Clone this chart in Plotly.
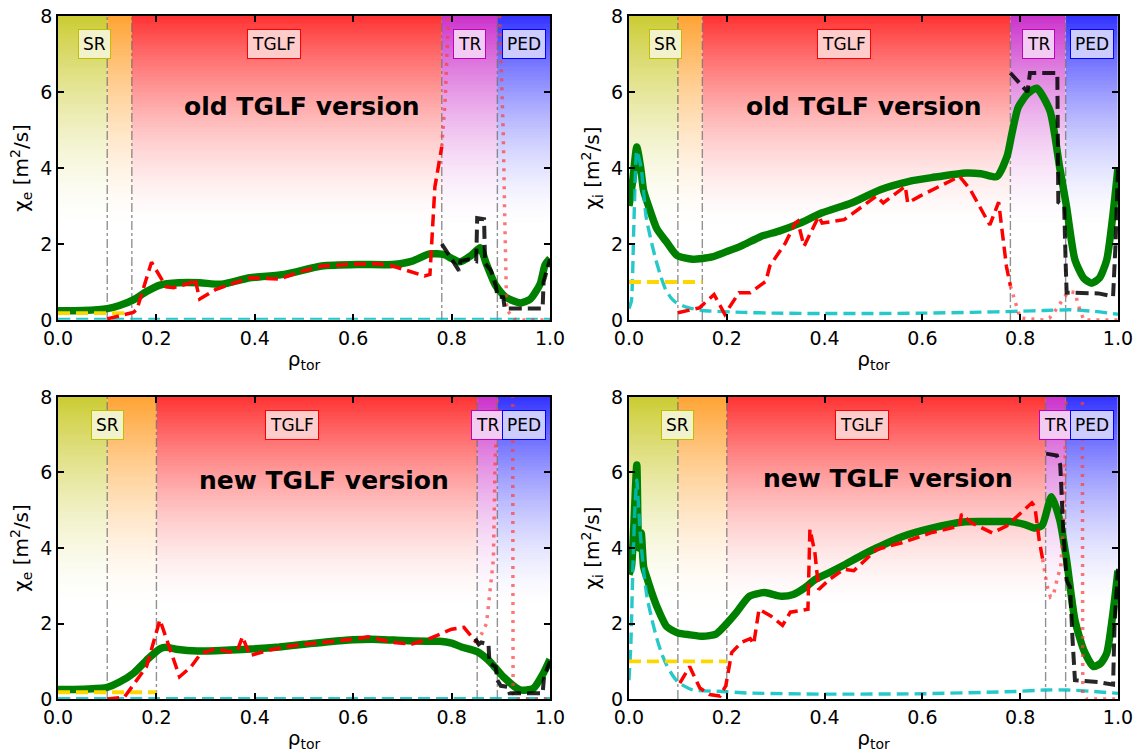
import plotly.graph_objects as go

# ---------------- region layout (rho_tor boundaries) ----------------
bounds_old = [0.0, 0.10, 0.15, 0.78, 0.893, 1.0]
bounds_new = [0.0, 0.10, 0.20, 0.852, 0.893, 1.0]
region_rgb = [(191, 191, 0), (255, 140, 0), (255, 0, 0), (191, 0, 191), (0, 0, 255)]

# ---------------- top-left: chi_e, old TGLF ----------------
tl_green_x = [0.0, 0.05, 0.1, 0.125, 0.153, 0.18, 0.207, 0.245, 0.288, 0.332, 0.39, 0.46, 0.536,
              0.61, 0.68, 0.72, 0.755, 0.785, 0.8, 0.817, 0.84, 0.858, 0.87, 0.889, 0.91, 0.94,
              0.96, 0.98, 0.99, 1.0]
tl_green_y = [0.24, 0.25, 0.3, 0.38, 0.53, 0.75, 0.92, 0.98, 0.98, 0.94, 1.11, 1.2, 1.42,
              1.46, 1.46, 1.55, 1.74, 1.72, 1.62, 1.53, 1.7, 1.9, 1.5, 0.92, 0.6, 0.45,
              0.55, 0.95, 1.45, 1.62]
tl_red_x = [0.1, 0.153, 0.16, 0.19, 0.22, 0.235, 0.275, 0.278, 0.288, 0.32, 0.35, 0.39, 0.45,
            0.5, 0.536, 0.6, 0.65, 0.68, 0.745, 0.756, 0.766, 0.78]
tl_red_y = [0.03, 0.2, 0.27, 1.52, 0.87, 0.85, 1.0, 1.1, 0.55, 0.8, 0.94, 1.11, 1.08,
            1.3, 1.42, 1.47, 1.48, 1.42, 1.16, 1.2, 3.5, 4.56]
tl_dot_x = [0.78, 0.787, 0.793, 0.8, 0.85, 0.89, 0.898, 0.905, 0.908, 0.912, 0.93, 1.0]
tl_dot_y = [4.56, 5.8, 7.8, 12.0, 20.0, 12.0, 7.9, 4.9, 2.7, 0.26, 0.0, 0.0]
tl_blk_x = [0.78, 0.80, 0.815, 0.818, 0.835, 0.85, 0.852, 0.866, 0.868, 0.88, 0.89, 0.893,
            0.905, 0.908, 0.985, 0.987, 1.0]
tl_blk_y = [2.0, 1.6, 1.3, 1.55, 1.6, 1.55, 2.68, 2.65, 1.5, 1.3, 0.9, 0.62,
            0.6, 0.3, 0.3, 1.0, 1.6]
tl_cyan_x = [0.0, 0.2, 0.4, 0.6, 0.8, 1.0]
tl_cyan_y = [0.03, 0.03, 0.03, 0.03, 0.03, 0.03]
tl_gold_x = [0.0, 0.05, 0.1, 0.15]
tl_gold_y = [0.18, 0.18, 0.18, 0.18]

# ---------------- top-right: chi_i, old TGLF ----------------
tr_green_x = [0.0, 0.008, 0.016, 0.024, 0.03, 0.04, 0.057, 0.077, 0.098, 0.13, 0.17, 0.2,
              0.23, 0.27, 0.307, 0.35, 0.395, 0.455, 0.514, 0.573, 0.62, 0.69, 0.72, 0.752,
              0.773, 0.783, 0.796, 0.815, 0.834, 0.861, 0.881, 0.895, 0.912, 0.93, 0.946,
              0.962, 0.977, 0.99, 1.0]
tr_green_y = [3.0, 3.7, 4.55, 4.0, 3.4, 3.0, 2.4, 2.05, 1.7, 1.6, 1.66, 1.8,
              1.95, 2.2, 2.34, 2.55, 2.82, 3.08, 3.43, 3.65, 3.75, 3.87, 3.85, 3.77,
              4.3, 4.9, 5.6, 5.95, 6.1, 5.5, 4.0, 2.97, 1.58, 1.1, 0.97,
              1.1, 1.58, 2.8, 4.0]
tr_red_x = [0.1, 0.144, 0.174, 0.196, 0.225, 0.248, 0.28, 0.288, 0.32, 0.34, 0.345, 0.358,
            0.388, 0.395, 0.44, 0.46, 0.506, 0.52, 0.565, 0.57, 0.595, 0.676, 0.698, 0.738,
            0.756, 0.772, 0.78]
tr_red_y = [0.19, 0.32, 0.67, 0.15, 0.72, 0.72, 1.02, 1.42, 2.03, 2.55, 2.6, 1.94,
            2.73, 2.55, 2.64, 2.82, 3.26, 3.08, 3.52, 3.08, 3.26, 3.78, 3.43, 2.5,
            3.1, 1.4, 0.9]
tr_dot_x = [0.78, 0.79, 0.8, 0.85, 0.86, 0.875, 0.89, 0.9, 0.912, 0.92, 0.93, 1.0]
tr_dot_y = [0.9, 0.45, 0.05, 0.0, 0.05, 0.3, 0.6, 0.75, 0.72, 0.35, 0.0, 0.0]
tr_blk_x = [0.78, 0.815, 0.82, 0.83, 0.876, 0.878, 0.89, 0.893, 0.895, 0.96, 0.99, 0.995, 1.0]
tr_blk_y = [6.5, 6.0, 6.5, 6.5, 6.5, 3.1, 3.0, 1.5, 0.72, 0.7, 0.62, 2.0, 4.0]
tr_cyan_x = [0.0, 0.005, 0.01, 0.016, 0.025, 0.035, 0.045, 0.055, 0.065, 0.075, 0.085, 0.095,
             0.117, 0.151, 0.233, 0.3, 0.4, 0.5, 0.6, 0.7, 0.8, 0.85, 0.9, 0.95, 1.0]
tr_cyan_y = [0.3, 0.5, 2.5, 4.45, 4.0, 2.72, 2.1, 1.58, 1.15, 0.8, 0.6, 0.47,
             0.34, 0.25, 0.2, 0.18, 0.17, 0.17, 0.18, 0.2, 0.23, 0.25, 0.27, 0.23, 0.15]
tr_gold_x = [0.0, 0.05, 0.1, 0.15]
tr_gold_y = [1.0, 1.0, 1.0, 1.0]

# ---------------- bottom-left: chi_e, new TGLF ----------------
bl_green_x = [0.0, 0.05, 0.1, 0.125, 0.153, 0.18, 0.207, 0.22, 0.24, 0.283, 0.35, 0.4, 0.45,
              0.5, 0.55, 0.6, 0.65, 0.7, 0.75, 0.776, 0.8, 0.82, 0.851, 0.878, 0.905, 0.939,
              0.966, 0.986, 1.0]
bl_green_y = [0.25, 0.26, 0.31, 0.45, 0.68, 1.03, 1.33, 1.37, 1.32, 1.27, 1.3, 1.33, 1.38,
              1.45, 1.52, 1.57, 1.58, 1.55, 1.53, 1.53, 1.48, 1.38, 1.26, 0.99, 0.59, 0.24,
              0.28, 0.67, 1.05]
bl_red_x = [0.1, 0.135, 0.16, 0.18, 0.207, 0.225, 0.247, 0.27, 0.29, 0.32, 0.35, 0.365,
            0.375, 0.39, 0.43, 0.48, 0.54, 0.61, 0.63, 0.68, 0.72, 0.755, 0.8, 0.825, 0.85]
bl_red_y = [0.0, 0.05, 0.5, 0.86, 2.1, 1.4, 0.59, 0.85, 1.2, 1.33, 1.25, 1.3,
            1.65, 1.15, 1.3, 1.42, 1.5, 1.6, 1.65, 1.5, 1.46, 1.6, 1.85, 1.9, 1.5]
bl_dot_x = [0.85, 0.86, 0.871, 0.885, 0.888, 0.89, 0.895, 0.91, 0.924, 0.925, 0.93, 1.0]
bl_dot_y = [1.5, 1.7, 2.0, 3.7, 6.0, 7.1, 9.0, 12.0, 9.0, 0.15, 0.0, 0.0]
bl_blk_x = [0.848, 0.855, 0.86, 0.875, 0.877, 0.883, 0.89, 0.893, 0.9, 0.915, 0.918, 0.985,
            0.988, 1.0]
bl_blk_y = [1.6, 1.45, 1.5, 1.45, 0.95, 0.9, 0.85, 0.5, 0.35, 0.32, 0.15, 0.15, 0.6, 1.0]
bl_cyan_x = [0.0, 0.2, 0.4, 0.6, 0.8, 1.0]
bl_cyan_y = [0.03, 0.03, 0.03, 0.03, 0.03, 0.03]
bl_gold_x = [0.0, 0.05, 0.1, 0.15, 0.2]
bl_gold_y = [0.18, 0.18, 0.18, 0.18, 0.18]

# ---------------- bottom-right: chi_i, new TGLF ----------------
br_green_x = [0.0, 0.005, 0.01, 0.016, 0.02, 0.025, 0.03, 0.037, 0.047, 0.057, 0.077, 0.1,
              0.125, 0.151, 0.178, 0.198, 0.219, 0.246, 0.277, 0.3, 0.314, 0.336, 0.36, 0.38,
              0.41, 0.44, 0.475, 0.506, 0.558, 0.617, 0.684, 0.728, 0.779, 0.81, 0.83, 0.845,
              0.864, 0.881, 0.895, 0.912, 0.93, 0.95, 0.965, 0.977, 0.99, 1.0]
br_green_y = [3.3, 3.5, 4.6, 6.2, 4.0, 4.4, 3.5, 3.2, 2.8, 2.45, 1.92, 1.75,
              1.7, 1.66, 1.72, 1.97, 2.28, 2.72, 2.82, 2.75, 2.72, 2.77, 2.95, 3.16,
              3.35, 3.55, 3.8, 4.0, 4.3, 4.52, 4.69, 4.7, 4.7, 4.62, 4.53, 4.6,
              5.36, 4.74, 3.68, 2.09, 1.3, 0.86, 0.95, 1.21, 2.3, 3.4]
br_red_x = [0.104, 0.124, 0.145, 0.165, 0.186, 0.198, 0.21, 0.23, 0.248, 0.255, 0.266, 0.29,
            0.314, 0.33, 0.366, 0.37, 0.38, 0.388, 0.41, 0.44, 0.46, 0.506, 0.558, 0.617,
            0.676, 0.68, 0.7, 0.743, 0.772, 0.787, 0.824, 0.83, 0.839, 0.846]
br_red_y = [0.42, 0.86, 0.29, 0.12, 0.08, 0.35, 1.23, 1.5, 1.6, 1.45, 2.38, 2.2,
            1.95, 2.3, 2.38, 4.5, 3.9, 2.9, 3.17, 3.44, 3.4, 3.96, 4.14, 4.4,
            4.58, 4.9, 4.67, 4.4, 4.58, 4.75, 5.2, 5.1, 4.2, 3.7]
br_dot_x = [0.846, 0.855, 0.862, 0.868, 0.876, 0.883, 0.89, 0.895, 0.91, 0.927, 0.928, 0.935, 1.0]
br_dot_y = [3.7, 3.0, 2.7, 2.75, 3.2, 3.5, 5.0, 9.0, 12.0, 9.0, 0.15, 0.0, 0.0]
br_blk_x = [0.853, 0.875, 0.882, 0.888, 0.895, 0.902, 0.907, 0.912, 0.96, 0.99, 0.993, 1.0]
br_blk_y = [6.5, 6.45, 6.2, 4.5, 3.15, 2.97, 1.6, 0.5, 0.45, 0.38, 2.0, 3.45]
br_cyan_x = [0.0, 0.004, 0.008, 0.012, 0.016, 0.02, 0.023, 0.03, 0.037, 0.047, 0.057, 0.067,
             0.077, 0.088, 0.1, 0.13, 0.19, 0.24, 0.4, 0.6, 0.79, 0.85, 0.897, 0.95, 1.0]
br_cyan_y = [0.5, 1.5, 3.5, 5.0, 5.8, 5.0, 4.4, 3.4, 2.7, 2.1, 1.6, 1.2,
             0.9, 0.65, 0.45, 0.24, 0.2, 0.16, 0.13, 0.14, 0.2, 0.24, 0.24, 0.2, 0.15]
br_gold_x = [0.0, 0.05, 0.1, 0.15, 0.2]
br_gold_y = [1.0, 1.0, 1.0, 1.0, 1.0]

panels = [
    dict(ax="", bounds=bounds_old, title="old TGLF version", tpos=(0.495, 5.62), ylab="χ<sub>e</sub> [m<sup>2</sup>/s]",
         green=(tl_green_x, tl_green_y), red=(tl_red_x, tl_red_y), dot=(tl_dot_x, tl_dot_y),
         blk=(tl_blk_x, tl_blk_y), cyan=(tl_cyan_x, tl_cyan_y), gold=(tl_gold_x, tl_gold_y),
         cyw=2, dom=([0.0510, 0.4833], [0.5756, 0.9788])),
    dict(ax="2", bounds=bounds_old, title="old TGLF version", tpos=(0.48, 5.62), ylab="χ<sub>i</sub> [m<sup>2</sup>/s]",
         green=(tr_green_x, tr_green_y), red=(tr_red_x, tr_red_y), dot=(tr_dot_x, tr_dot_y),
         blk=(tr_blk_x, tr_blk_y), cyan=(tr_cyan_x, tr_cyan_y), gold=(tr_gold_x, tr_gold_y),
         cyw=3.4, dom=([0.5527, 0.9824], [0.5756, 0.9788])),
    dict(ax="3", bounds=bounds_new, title="new TGLF version", tpos=(0.54, 5.8), ylab="χ<sub>e</sub> [m<sup>2</sup>/s]",
         green=(bl_green_x, bl_green_y), red=(bl_red_x, bl_red_y), dot=(bl_dot_x, bl_dot_y),
         blk=(bl_blk_x, bl_blk_y), cyan=(bl_cyan_x, bl_cyan_y), gold=(bl_gold_x, bl_gold_y),
         cyw=2, dom=([0.0510, 0.4833], [0.0729, 0.4735])),
    dict(ax="4", bounds=bounds_new, title="new TGLF version", tpos=(0.53, 5.85), ylab="χ<sub>i</sub> [m<sup>2</sup>/s]",
         green=(br_green_x, br_green_y), red=(br_red_x, br_red_y), dot=(br_dot_x, br_dot_y),
         blk=(br_blk_x, br_blk_y), cyan=(br_cyan_x, br_cyan_y), gold=(br_gold_x, br_gold_y),
         cyw=3.4, dom=([0.5527, 0.9824], [0.0729, 0.4735])),
]

FONT = "DejaVu Sans"
fig = go.Figure()

# vertical gradient bands: colour strength grows towards the top of the axes
n_band = 110
band_edges = [8.0 * k / n_band for k in range(n_band + 1)]
band_alpha = []
for k in range(n_band):
    yc = 0.5 * (band_edges[k] + band_edges[k + 1])
    t = max(0.0, (yc - 2.4) / 5.6)
    band_alpha.append([0.8 * t ** 1.6])

annotations = []
for p in panels:
    xa, ya = "x" + p["ax"], "y" + p["ax"]
    b = p["bounds"]
    for i, rgb in enumerate(region_rgb):
        fig.add_trace(go.Heatmap(
            x=[b[i], b[i + 1]], y=band_edges, z=band_alpha, zmin=0, zmax=1,
            colorscale=[[0, "rgb(255,255,255)"], [1, "rgb(%d,%d,%d)" % rgb]],
            showscale=False, hoverinfo="skip", xaxis=xa, yaxis=ya))
    for xb in b[1:-1]:
        fig.add_trace(go.Scatter(x=[xb, xb], y=[0, 8], mode="lines",
                                 line=dict(color="rgba(110,110,110,0.75)", width=1.4, dash="dashdot"),
                                 hoverinfo="skip", xaxis=xa, yaxis=ya))
    # curves
    gx, gy = p["green"]
    fig.add_trace(go.Scatter(x=gx, y=gy, mode="lines", line=dict(color="rgb(0,128,0)", width=7.5, shape="spline", smoothing=0.6),
                             xaxis=xa, yaxis=ya))
    cx, cy = p["cyan"]
    fig.add_trace(go.Scatter(x=cx, y=cy, mode="lines", line=dict(color="rgba(0,191,191,0.85)", width=p["cyw"], dash="12px,6px", shape="spline", smoothing=0.5),
                             xaxis=xa, yaxis=ya))
    yx, yy = p["gold"]
    fig.add_trace(go.Scatter(x=yx, y=yy, mode="lines", line=dict(color="rgb(255,215,0)", width=3.8, dash="12px,6px"),
                             xaxis=xa, yaxis=ya))
    rx, ry = p["red"]
    fig.add_trace(go.Scatter(x=rx, y=ry, mode="lines", line=dict(color="rgb(255,0,0)", width=3.5, dash="12px,6px"),
                             xaxis=xa, yaxis=ya))
    dx, dy = p["dot"]
    fig.add_trace(go.Scatter(x=dx, y=dy, mode="lines", line=dict(color="rgba(255,60,60,0.7)", width=3.5, dash="3px,6px"),
                             xaxis=xa, yaxis=ya))
    kx, ky = p["blk"]
    fig.add_trace(go.Scatter(x=kx, y=ky, mode="lines", line=dict(color="rgba(0,0,0,0.85)", width=4, dash="13px,6px"),
                             xaxis=xa, yaxis=ya))

    # region labels
    label_x = [0.5 * (b[0] + b[2]), 0.5 * (b[1] + b[3]), 0.5 * (b[3] + b[4]), 0.5 * (b[4] + b[5])]
    label_txt = ["SR", "TGLF", "TR", "PED"]
    label_fill = ["rgba(242,242,204,1)", "rgba(255,204,204,1)", "rgba(242,204,242,1)", "rgba(204,204,255,1)"]
    label_edge = ["rgb(191,191,0)", "rgb(255,0,0)", "rgb(191,0,191)", "rgb(0,0,255)"]
    for lx, lt, lf, le in zip(label_x, label_txt, label_fill, label_edge):
        annotations.append(dict(x=lx, y=7.25, xref=xa, yref=ya, text=lt, showarrow=False,
                                font=dict(family=FONT, size=17, color="black"),
                                bgcolor=lf, bordercolor=le, borderwidth=1, borderpad=4))
    annotations.append(dict(x=p["tpos"][0], y=p["tpos"][1], xref=xa, yref=ya,
                            text="<b>%s</b>" % p["title"], showarrow=False,
                            font=dict(family=FONT, size=25, color="black")))

layout = dict(width=1138, height=754, margin=dict(l=0, r=0, t=0, b=0),
              paper_bgcolor="white", plot_bgcolor="white", showlegend=False,
              font=dict(family=FONT, size=19, color="black"), annotations=annotations)
axis_common = dict(showline=True, linewidth=2, linecolor="black", mirror="ticks",
                   ticks="inside", ticklen=6, tickwidth=1.5, tickcolor="black", automargin=False,
                   showgrid=False, zeroline=False, tickfont=dict(family=FONT, size=19))
for p in panels:
    k = p["ax"]
    layout["xaxis" + k] = dict(axis_common, domain=p["dom"][0], range=[0, 1],
                               tickvals=[0, 0.2, 0.4, 0.6, 0.8, 1.0],
                               ticktext=["0.0", "0.2", "0.4", "0.6", "0.8", "1.0"],
                               anchor="y" + k,
                               title=dict(text="ρ<sub>tor</sub>", font=dict(family=FONT, size=20), standoff=4))
    layout["yaxis" + k] = dict(axis_common, domain=p["dom"][1], range=[0, 8],
                               tickvals=[0, 2, 4, 6, 8], anchor="x" + k,
                               title=dict(text=p["ylab"], font=dict(family=FONT, size=20), standoff=6))
fig.update_layout(**layout)
fig.write_html("out.html")
